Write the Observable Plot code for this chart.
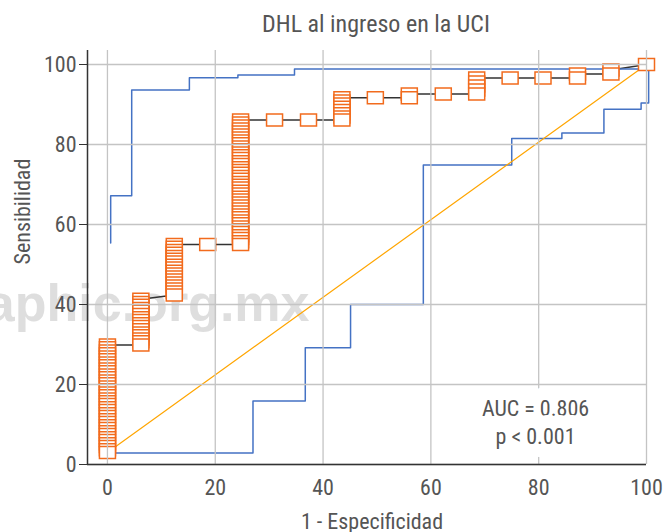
<!DOCTYPE html>
<html><head><meta charset="utf-8">
<script src="https://cdn.jsdelivr.net/npm/d3@7"></script>
<script src="https://cdn.jsdelivr.net/npm/@observablehq/plot@0.6"></script>
<style>body{margin:0;background:#fff}</style>
</head><body><div id="chart"></div>
<script>
const title = "DHL al ingreso en la UCI";
const xLabel = "1 - Especificidad";
const yLabel = "Sensibilidad";
const watermark = "graphic.org.mx";
const aucLines = ["AUC = 0.806", "p < 0.001"];
const ticks = [0, 20, 40, 60, 80, 100];
const xMin = -3.7, xMax = 100, yMin = 0, yMax = 103.5;

// ROC points: one column per false-positive rate, sensitivities stacked
const rocFpr = [0, 6.2, 12.4, 18.6, 24.7, 31.0, 37.3, 43.5, 49.7, 56.0, 62.3, 68.5, 74.7, 80.8, 87.2, 93.4, 100];
const rocSens = [
  [3.0,3.7,4.5,5.2,6.0,6.7,7.5,8.2,9.0,9.7,10.5,11.2,12.0,12.7,13.5,14.2,15.0,15.7,16.4,17.2,17.9,18.7,19.4,20.2,20.9,21.7,22.4,23.2,23.9,24.7,25.4,26.2,26.9,27.7,28.4,29.2,29.9],
  [29.9,30.7,31.4,32.2,32.9,33.7,34.5,35.2,36.0,36.7,37.5,38.3,39.0,39.8,40.5,41.3],
  [42.4,43.1,43.9,44.6,45.4,46.1,46.9,47.6,48.3,49.1,49.8,50.6,51.3,52.0,52.8,53.5,54.3,55.0],
  [55.0],
  [55.0,55.7,56.5,57.2,58.0,58.7,59.4,60.2,60.9,61.7,62.4,63.1,63.9,64.6,65.4,66.1,66.8,67.6,68.3,69.1,69.8,70.5,71.3,72.0,72.8,73.5,74.2,75.0,75.7,76.5,77.2,77.9,78.7,79.4,80.2,80.9,81.6,82.4,83.1,83.9,84.6,85.4,86.1],
  [86.1],
  [86.1],
  [86.1,86.9,87.7,88.5,89.3,90.1,90.9,91.7],
  [91.7],
  [91.7,92.6],
  [92.6],
  [92.6,93.6,94.6,95.6,96.6],
  [96.6],
  [96.6],
  [96.6,97.6],
  [97.6,98.6],
  [100]
];

// Confidence band (step curves)
const upperX = [0.6, 0.6, 4.5, 15.2, 24.2, 34.7, 100.4];
const upperY = [55.4, 67.2, 93.6, 96.7, 97.4, 98.9, 98.9];
const lowerX = [0, 27.0, 36.7, 45.1, 58.6, 75.0, 84.3, 92.1, 99.0, 100.4];
const lowerY = [2.9, 15.9, 29.2, 40.0, 74.9, 81.5, 82.9, 88.8, 90.4, 98.9];

// Reference line
const diagX = [0, 100];
const diagY = [3.0, 100];

const FONT = "'Liberation Sans Narrow','Roboto Condensed','DejaVu Sans Condensed',sans-serif";
const GRAY = "#555";

const rocPoints = rocFpr.flatMap((f, i) => rocSens[i].map(s => ({fpr: f, sens: s})));
const upper = upperX.map((x, i) => ({x, y: upperY[i]}));
const lower = lowerX.map((x, i) => ({x, y: lowerY[i]}));
const diag = diagX.map((x, i) => ({x, y: diagY[i]}));

const rectSymbol = {draw(context) { context.rect(-8, -6, 16, 12); }};

const plot = Plot.plot({
  width: 664,
  height: 532,
  marginLeft: 87,
  marginRight: 18,
  marginTop: 50,
  marginBottom: 68,
  x: {domain: [xMin, xMax]},
  y: {domain: [yMin, yMax]},
  style: {fontFamily: FONT, fontSize: "22px", color: GRAY, background: "#fff", overflow: "visible"},
  marks: [
    Plot.text([watermark], {text: d => d, frameAnchor: "left", dx: 222, dy: 63, textAnchor: "end", lineAnchor: "bottom",
      fontSize: 52, fontWeight: "bold", fontFamily: "'Liberation Sans', Arial, sans-serif", fill: "#cccccc", fillOpacity: 0.65}),
    Plot.line(rocPoints, {x: "fpr", y: "sens", stroke: "#333", strokeWidth: 1.5}),
    Plot.line(upper, {x: "x", y: "y", curve: "step-after", stroke: "#4472C4", strokeWidth: 1.5}),
    Plot.line(lower, {x: "x", y: "y", curve: "step-after", stroke: "#4472C4", strokeWidth: 1.5}),
    Plot.line(diag, {x: "x", y: "y", stroke: "#FFA500", strokeWidth: 1.2}),
    Plot.dot(rocPoints.slice().reverse(), {x: "fpr", y: "sens", symbol: rectSymbol, fill: "white", stroke: "#F26B1D", strokeWidth: 1.5}),
    Plot.gridX(ticks, {stroke: "#c4c4c4", strokeOpacity: 1, strokeWidth: 1.3}),
    Plot.gridY(ticks, {stroke: "#c4c4c4", strokeOpacity: 1, strokeWidth: 1.3}),
    Plot.text([aucLines.join("\n")], {text: d => d, frameAnchor: "bottom-right", dx: -111, dy: -21, textAnchor: "middle",
      lineAnchor: "bottom", lineHeight: 1.27, fontSize: 22, fill: GRAY, stroke: "white", strokeWidth: 26,
      strokeLinejoin: "round", paintOrder: "stroke"}),
    Plot.ruleX([xMin], {stroke: "#333", strokeWidth: 1.5}),
    Plot.ruleY([yMin], {stroke: "#333", strokeWidth: 1.5}),
    Plot.axisY(ticks, {tickSize: 8, tickPadding: 3, stroke: "#333", fill: GRAY, label: null, fontSize: 22}),
    Plot.axisX(ticks, {tickSize: 0, tickPadding: 15, fill: GRAY, label: null, fontSize: 22}),
    Plot.text([title], {text: d => d, frameAnchor: "top", dx: 9, dy: -19, lineAnchor: "bottom", fontSize: 24, fill: GRAY}),
    Plot.text([xLabel], {text: d => d, frameAnchor: "bottom", dx: 5, dy: 64, lineAnchor: "bottom", fontSize: 22, fill: GRAY}),
    Plot.text([yLabel], {text: d => d, frameAnchor: "left", dx: -65, dy: 7, rotate: -90, lineAnchor: "middle", fontSize: 22, fill: GRAY})
  ]
});
document.getElementById("chart").appendChild(plot);
</script>
</body></html>
